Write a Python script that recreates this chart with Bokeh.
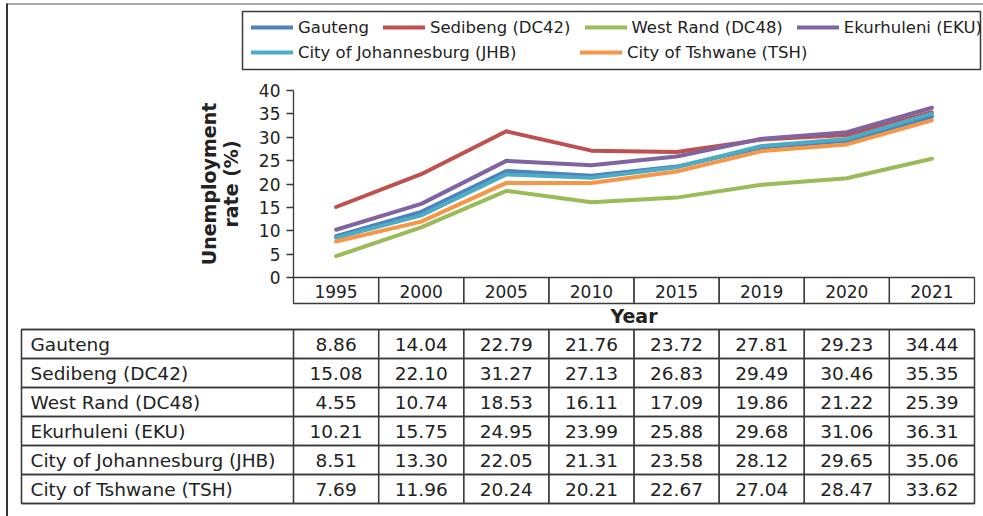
import math
from bokeh.plotting import figure
from bokeh.models import (Range1d, FixedTicker, LinearAxis, Legend, LegendItem)
from bokeh.core.properties import value
from bokeh.embed import file_html
from bokeh.resources import INLINE

# ---------------- data ----------------
years = ["1995", "2000", "2005", "2010", "2015", "2019", "2020", "2021"]
series_names = ["Gauteng", "Sedibeng (DC42)", "West Rand (DC48)", "Ekurhuleni (EKU)",
                "City of Johannesburg (JHB)", "City of Tshwane (TSH)"]
gauteng = [8.86, 14.04, 22.79, 21.76, 23.72, 27.81, 29.23, 34.44]
sedibeng = [15.08, 22.10, 31.27, 27.13, 26.83, 29.49, 30.46, 35.35]
west_rand = [4.55, 10.74, 18.53, 16.11, 17.09, 19.86, 21.22, 25.39]
ekurhuleni = [10.21, 15.75, 24.95, 23.99, 25.88, 29.68, 31.06, 36.31]
johannesburg = [8.51, 13.30, 22.05, 21.31, 23.58, 28.12, 29.65, 35.06]
tshwane = [7.69, 11.96, 20.24, 20.21, 22.67, 27.04, 28.47, 33.62]
series_values = [gauteng, sedibeng, west_rand, ekurhuleni, johannesburg, tshwane]
y_ticks = [0, 5, 10, 15, 20, 25, 30, 35, 40]
y_title = ["Unemployment", "rate (%)"]
x_title = "Year"

# ---------------- styles / layout ----------------
colors = ["#4F81BD", "#C0504D", "#9BBB59", "#8064A2", "#4BACC6", "#F79646"]
FONT = "DejaVu Sans"
TXT = "#222222"
GRID = "#3a3a3a"
W, H = 983, 516
FL, FR, FT, FB = 293, 974, 90, 277     # plot area edges (canvas px)
TBL_TOP, ROW_H = 329, 29               # data table
TBL_LEFT = 21
HDR_BOTTOM = 303                       # category boxes under the axis
N = len(years)
Y_MAX = y_ticks[-1]

def cx(px):
    """canvas x pixel -> category coordinate (category i spans [i, i+1])"""
    return (px - FL) * N / (FR - FL)

def rate_at(py):
    """canvas y pixel -> rate value"""
    return (FB - py) * Y_MAX / (FB - FT)

p = figure(width=W, height=H,
           x_range=Range1d(cx(0), cx(W)), y_range=Range1d(H, 0),
           x_axis_location=None, y_axis_location=None,
           output_backend="svg", toolbar_location=None,
           min_border=0)
p.extra_y_ranges = {"rate": Range1d(rate_at(H), rate_at(0))}
p.outline_line_color = None
p.background_fill_color = "white"
p.border_fill_color = "white"
p.grid.visible = False

xc = [i + 0.5 for i in range(N)]   # category centres

# y axis (rate)
yax = LinearAxis(y_range_name="rate", fixed_location=cx(FL), bounds=(0, Y_MAX),
                 ticker=FixedTicker(ticks=y_ticks))
yax.major_tick_out = 7
yax.major_tick_in = 0
yax.minor_tick_line_color = None
yax.axis_line_color = GRID
yax.axis_line_width = 1.3
yax.major_tick_line_color = GRID
yax.major_tick_line_width = 1.3
yax.major_label_text_font = FONT
yax.major_label_text_font_size = "17px"
yax.major_label_text_color = TXT
yax.major_label_standoff = 6
p.add_layout(yax, "left")

# x axis (category labels + "Year")
xax = LinearAxis(fixed_location=FB, bounds=(0, N), ticker=FixedTicker(ticks=xc),
                 major_label_overrides={c: y for c, y in zip(xc, years)})
xax.axis_line_color = None
xax.major_tick_line_color = None
xax.minor_tick_line_color = None
xax.major_label_text_font = FONT
xax.major_label_text_font_size = "17px"
xax.major_label_text_color = TXT
xax.major_label_standoff = 1
xax.axis_label = x_title
xax.axis_label_text_font = FONT
xax.axis_label_text_font_style = "bold"
xax.axis_label_text_font_size = "19px"
xax.axis_label_text_color = TXT
xax.axis_label_standoff = 4
p.add_layout(xax, "below")

# lines
renderers = []
for name, col, vals in zip(series_names, colors, series_values):
    r = p.line(x=xc, y=vals, y_range_name="rate", line_color=col, line_width=4,
               line_join="round", line_cap="round")
    renderers.append(r)

# legend
def make_legend(idx, left, center_y):
    lg = Legend(items=[LegendItem(label=series_names[i], renderers=[renderers[i]]) for i in idx],
                orientation="horizontal", location=(left, H - center_y - 10),
                padding=0, margin=0,
                spacing=14, glyph_width=42, glyph_height=20, label_standoff=5,
                label_height=20, label_text_font=FONT, label_text_font_size="16.5px",
                label_text_color=TXT, border_line_color=None, background_fill_alpha=0)
    p.add_layout(lg)

make_legend([0, 1, 2, 3], 251, 27)
make_legend([4], 251, 52)
make_legend([5], 580, 52)

def boxes(lefts, rights, tops, bottoms, lc=GRID, lw=1.3, fill=None):
    p.quad(left=lefts, right=rights, top=tops, bottom=bottoms,
           line_color=lc, line_width=lw, line_alpha=1.0 if lc else 0.0,
           fill_color=fill, fill_alpha=1.0 if fill else 0.0)

# outer frame lines
boxes([cx(6)], [cx(W)], [2.5], [4.5], lc=None, fill="#a8a8a8")
boxes([cx(5.5)], [cx(7.5)], [3], [H], lc=None, fill="#333333")
# legend border
boxes([cx(242)], [cx(980)], [11], [69], lw=1.5)

# category header boxes
boxes(list(range(N)), list(range(1, N + 1)), [FB] * N, [HDR_BOTTOM] * N)

# data table grid
n_rows = len(series_names)
tbl_bottom = TBL_TOP + ROW_H * n_rows
boxes([cx(TBL_LEFT)] * n_rows, [N] * n_rows,
      [TBL_TOP + ROW_H * k for k in range(n_rows)],
      [TBL_TOP + ROW_H * (k + 1) for k in range(n_rows)])
boxes([cx(TBL_LEFT)], [0], [TBL_TOP], [tbl_bottom])
boxes(list(range(N)), list(range(1, N + 1)), [TBL_TOP] * N, [tbl_bottom] * N)

# data table texts
row_y = [TBL_TOP + ROW_H * (k + 0.5) for k in range(n_rows)]
p.text(x=[cx(TBL_LEFT + 9)] * n_rows, y=row_y, text=series_names,
       text_font=value(FONT), text_font_size="18.5px", text_color=TXT,
       text_align="left", text_baseline="middle")
vx, vy, vt = [], [], []
for k, vals in enumerate(series_values):
    for c, v in zip(xc, vals):
        vx.append(c)
        vy.append(row_y[k])
        vt.append(f"{v:.2f}")
p.text(x=vx, y=vy, text=vt,
       text_font=value(FONT), text_font_size="18.5px", text_color=TXT,
       text_align="center", text_baseline="middle")

# y title (two lines, rotated)
p.text(x=[cx(208.5), cx(230)], y=[(FT + FB) / 2] * 2, text=y_title, angle=math.pi / 2,
       text_font=value(FONT), text_font_style="bold", text_font_size="19px",
       text_color=TXT, text_align="center", text_baseline="middle")

open("out.html", "w").write(file_html(p, INLINE))
